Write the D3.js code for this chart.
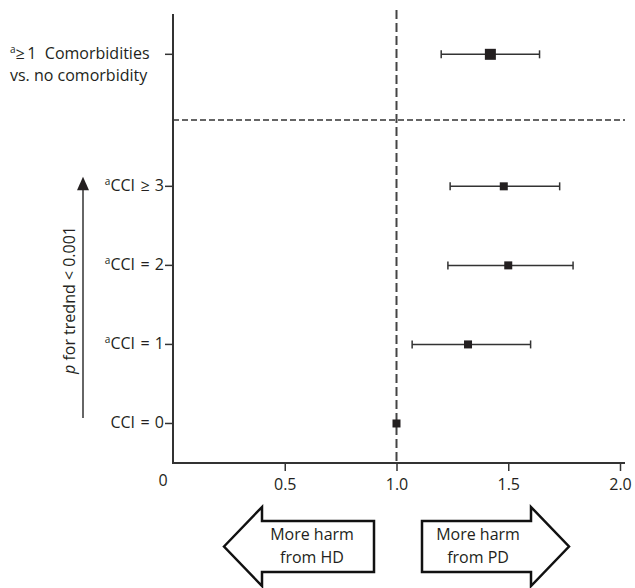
<!DOCTYPE html>
<html>
<head>
<meta charset="utf-8">
<script src="https://cdn.jsdelivr.net/npm/d3@7"></script>
<style>
    body { margin: 0; background: #fff; }
    svg { display: block; }
    text { font-family: "Open Sans", sans-serif; fill: #231f20; }
</style>
</head>
<body>
<svg></svg>
<script>
// rows, top to bottom
const rowLabels = ['≥\u20091\u00a0\u00a0Comorbidities', 'CCI\u2004≥\u20043', 'CCI\u2004=\u20042', 'CCI\u2004=\u20041', 'CCI\u2004=\u20040'];
const rowNote = [true, true, true, true, false];   // superscript "a"
const rowPos = [4.67, 3, 2, 1, 0];
const hazard = [1.42, 1.48, 1.50, 1.32, 1.00];
const lower = [1.20, 1.24, 1.23, 1.07, null];
const upper = [1.64, 1.73, 1.79, 1.60, null];
const xTicks = [0.5, 1.0, 1.5, 2.0];
const xTickLabels = ['0.5', '1.0', '1.5', '2.0'];

const width = 635, height = 588;
const svg = d3.select('svg').attr('width', width).attr('height', height);

const x = d3.scaleLinear().domain([0, 2]).range([173, 620]);
const y = d3.scaleLinear().domain([-0.5, 5.18]).range([463, 14]);

const rows = rowLabels.map((label, i) => ({
    label: label,
    note: rowNote[i],
    pos: rowPos[i],
    hr: hazard[i],
    lo: lower[i],
    hi: upper[i],
    big: i === 0
}));

// reference line at 1.0
svg.append('line')
    .attr('x1', x(1)).attr('x2', x(1))
    .attr('y1', y(5.23)).attr('y2', y(-0.5))
    .attr('stroke', '#444')
    .attr('stroke-width', 2)
    .attr('stroke-dasharray', '9,4');

// separator between overall row and CCI rows
svg.append('line')
    .attr('x1', x(0)).attr('x2', x(2) + 5)
    .attr('y1', y(3.84)).attr('y2', y(3.84))
    .attr('stroke', '#333')
    .attr('stroke-width', 1.5)
    .attr('stroke-dasharray', '6,3');

// axes
svg.append('line')
    .attr('x1', x(0)).attr('x2', x(0))
    .attr('y1', y(5.18)).attr('y2', y(-0.5))
    .attr('stroke', '#333').attr('stroke-width', 2);
svg.append('line')
    .attr('x1', x(0) - 1).attr('x2', x(2) + 5)
    .attr('y1', y(-0.5)).attr('y2', y(-0.5))
    .attr('stroke', '#333').attr('stroke-width', 2);

const xAxis = svg.append('g')
    .attr('transform', `translate(0,${y(-0.5)})`)
    .call(d3.axisBottom(x).tickValues(xTicks).tickSize(8).tickFormat((d, i) => xTickLabels[i]));
xAxis.select('.domain').remove();
xAxis.selectAll('line').attr('stroke', '#333').attr('stroke-width', 1.5);
xAxis.selectAll('text')
    .attr('y', 27).attr('dy', 0)
    .attr('font-size', '16px')
    .attr('font-family', '"Open Sans", sans-serif')
    .attr('fill', '#231f20');

svg.append('text')
    .attr('x', x(0) - 10)
    .attr('y', y(-0.5) + 23)
    .attr('text-anchor', 'middle')
    .attr('font-size', '16px')
    .text('0');

// y ticks
svg.append('g')
    .selectAll('line')
    .data(rows)
    .enter()
    .append('line')
    .attr('x1', x(0) - 8).attr('x2', x(0))
    .attr('y1', d => y(d.pos)).attr('y2', d => y(d.pos))
    .attr('stroke', '#333').attr('stroke-width', 1.5);

// row labels
const labels = svg.append('g')
    .selectAll('text')
    .data(rows)
    .enter()
    .append('text')
    .attr('font-size', '16px')
    .attr('x', d => d.big ? 10 : x(0) - 9)
    .attr('y', d => y(d.pos) + 5)
    .attr('text-anchor', d => d.big ? 'start' : 'end');
labels.filter(d => d.note)
    .append('tspan')
    .attr('font-size', '10px')
    .attr('dy', -6)
    .text('a');
labels.append('tspan')
    .attr('dy', d => d.note ? 6 : 0)
    .text(d => d.label);

svg.append('text')
    .attr('x', 10)
    .attr('y', y(rowPos[0]) + 27)
    .attr('font-size', '16px')
    .text('vs. no comorbidity');

// confidence intervals
const ci = rows.filter(d => d.lo !== null);
const bars = svg.append('g').attr('class', 'ci');
bars.selectAll('line.ci-line')
    .data(ci)
    .enter()
    .append('line')
    .attr('class', 'ci-line')
    .attr('x1', d => x(d.lo)).attr('x2', d => x(d.hi))
    .attr('y1', d => y(d.pos)).attr('y2', d => y(d.pos))
    .attr('stroke', '#333').attr('stroke-width', 1.5);
['lo', 'hi'].forEach(end => {
    bars.selectAll('line.cap-' + end)
        .data(ci)
        .enter()
        .append('line')
        .attr('class', 'cap-' + end)
        .attr('x1', d => x(d[end])).attr('x2', d => x(d[end]))
        .attr('y1', d => y(d.pos) - 4).attr('y2', d => y(d.pos) + 4)
        .attr('stroke', '#333').attr('stroke-width', 1.5);
});

// point estimates
svg.append('g')
    .selectAll('rect')
    .data(rows)
    .enter()
    .append('rect')
    .attr('width', d => d.big ? 11 : 8)
    .attr('height', d => d.big ? 11 : 8)
    .attr('x', d => x(d.hr) - (d.big ? 5.5 : 4))
    .attr('y', d => y(d.pos) - (d.big ? 5.5 : 4))
    .attr('fill', '#231f20');

// trend arrow
svg.append('line')
    .attr('x1', 83).attr('x2', 83)
    .attr('y1', y(0.07)).attr('y2', y(3.05))
    .attr('stroke', '#333').attr('stroke-width', 1.5);
svg.append('path')
    .attr('d', `M77,${y(2.95)} L89,${y(2.95)} L83,${y(3.12)} Z`)
    .attr('fill', '#231f20');
svg.append('text')
    .attr('transform', 'translate(75,300) rotate(-90)')
    .attr('text-anchor', 'middle')
    .attr('font-size', '16px')
    .call(t => {
        t.append('tspan').attr('font-style', 'italic').text('p');
        t.append('tspan').text('\u00a0for trednd < 0.001');
    });

// harm arrows
const arrowTop = 521, arrowBottom = 572, headTop = 507, headBottom = 586, mid = 546.5;
svg.append('path')
    .attr('d', `M224,${mid} L262,${headTop} L262,${arrowTop} L374,${arrowTop} L374,${arrowBottom} L262,${arrowBottom} L262,${headBottom} Z`)
    .attr('fill', '#fff').attr('stroke', '#111').attr('stroke-width', 2.5);
svg.append('path')
    .attr('d', `M422,${arrowTop} L531,${arrowTop} L531,${headTop} L569,${mid} L531,${headBottom} L531,${arrowBottom} L422,${arrowBottom} Z`)
    .attr('fill', '#fff').attr('stroke', '#111').attr('stroke-width', 2.5);

const harm = [
    { cx: 312, lines: ['More harm', 'from HD'] },
    { cx: 478, lines: ['More harm', 'from PD'] }
];
harm.forEach(h => {
    h.lines.forEach((line, i) => {
        svg.append('text')
            .attr('x', h.cx)
            .attr('y', 540 + i * 23)
            .attr('text-anchor', 'middle')
            .attr('font-size', '16px')
            .text(line);
    });
});
</script>
</body>
</html>
